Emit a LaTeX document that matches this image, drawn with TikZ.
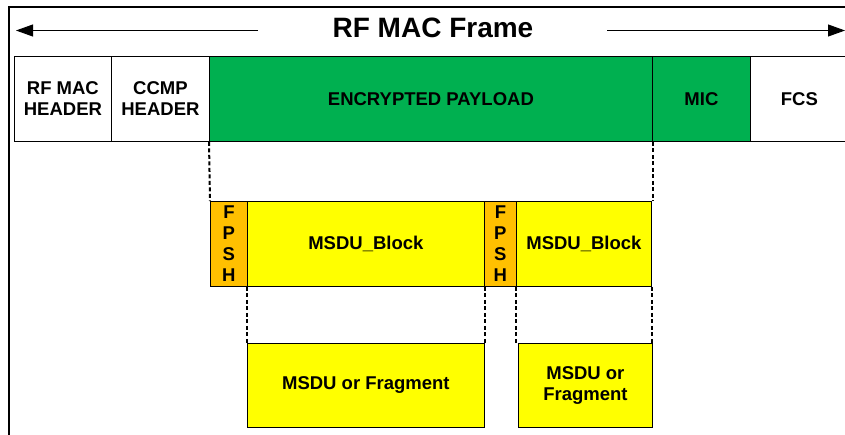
\documentclass[tikz,border=0pt]{standalone}
\usepackage{fontspec}
\setmainfont{Liberation Sans}
\usepackage{xcolor}
\usetikzlibrary{positioning,calc,arrows.meta}

\definecolor{payloadgreen}{HTML}{00B050}
\definecolor{fpshorange}{HTML}{FFC000}
\definecolor{blockyellow}{HTML}{FFFF00}

\tikzset{
    cell/.style={draw=black, line width=0.8pt, anchor=north west, inner sep=0pt,
        align=center, font=\fontsize{18.5}{21}\selectfont\bfseries},
    gap/.style={line width=2pt, dash pattern=on 4pt off 2.5pt},
    span/.style={line width=0.9pt, -{Triangle[length=17pt,width=12pt]}}
}

\begin{document}
\begin{tikzpicture}[x=1pt, y=-1pt]
    \clip (0,0) rectangle (845,434);
    \fill [white] (0,0) rectangle (845,434);

    % Outer frame
    \draw [line width=1.2pt] (8,7) -- (846,7);
    \draw [line width=2pt] (9,7) -- (9,435);

    % Title and span arrows
    \node (title) at (433,28) {\fontsize{28}{32}\selectfont\bfseries RF MAC Frame};
    \coordinate (lstart) at (258,30.5);
    \coordinate (lend) at (16,30.5);
    \coordinate (rstart) at (607,30.5);
    \coordinate (rend) at (845,30.5);
    \draw [span] (lstart) -- (lend);
    \draw [span] (rstart) -- (rend);

    % Frame fields
    \foreach \x/\w/\name/\fill/\text in {14/97/hdr/white/RF MAC\\HEADER, 111/98/ccmp/white/CCMP\\HEADER,
        209/443/payload/payloadgreen/ENCRYPTED PAYLOAD, 652/98/mic/payloadgreen/MIC, 750/98/fcs/white/FCS}
        \node [cell, fill=\fill, minimum width=\w, minimum height=85] (\name) at (\x,56) {\text};

    % Payload blocks
    \foreach \x/\w/\name/\fill/\text in {210/37/fpsha/fpshorange/F\\P\\S\\H, 247/237/blka/blockyellow/MSDU\_Block,
        484/32/fpshb/fpshorange/F\\P\\S\\H, 516/135/blkb/blockyellow/MSDU\_Block}
        \node [cell, fill=\fill, minimum width=\w, minimum height=85] (\name) at (\x,201) {\text};

    % Fragments
    \node [cell, fill=blockyellow, minimum width=237, minimum height=84] (fraga) at (247,343) {MSDU or Fragment};
    \node [cell, fill=blockyellow, minimum width=134, minimum height=84] (fragb) at (518,343) {MSDU or\\Fragment};

    % Dotted guides
    \draw [gap] (payload.south west) -- (fpsha.north west);
    \draw [gap] (payload.south east) -- (payload.south east |- blkb.north);
    \draw [gap] (blka.south west) -- (fraga.north west);
    \draw [gap] (blka.south east) -- (fraga.north east);
    \draw [gap] (blkb.south west) -- (blkb.south west |- fragb.north);
    \draw [gap] (blkb.south east) -- (blkb.south east |- fragb.north);
\end{tikzpicture}
\end{document}
